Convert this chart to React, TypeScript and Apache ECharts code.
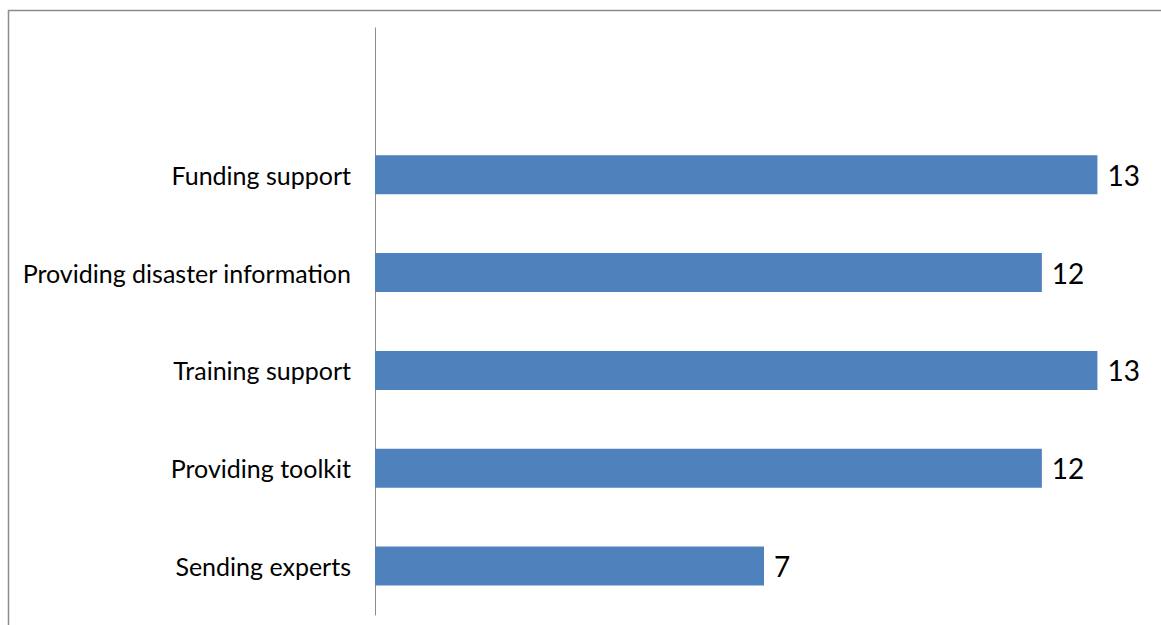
import React, { useEffect, useRef } from "react";
import * as echarts from "echarts";

const categories = ["", "Funding support", "Providing disaster information", "Training support", "Providing toolkit", "Sending experts"];
const values: (number | null)[] = [null, 13, 12, 13, 12, 7];

export default function App() {
  const ref = useRef<HTMLDivElement>(null);
  useEffect(() => {
    const chart = echarts.init(ref.current!, null, { renderer: "svg" });
    chart.setOption({
      animation: false,
      backgroundColor: "#fff",
      graphic: [
        {
          type: "rect",
          shape: { x: 8.5, y: 10.5, width: 1200, height: 700 },
          style: { fill: "none", stroke: "#8c8c8c", lineWidth: 1.5 },
          z: -1,
        },
      ],
      grid: { left: 375, right: 8, top: 28, bottom: 10, containLabel: false },
      xAxis: {
        type: "value",
        min: 0,
        max: 14,
        show: false,
      },
      yAxis: {
        type: "category",
        data: categories,
        inverse: true,
        axisLine: { show: true, lineStyle: { color: "#8c8c8c", width: 1 } },
        axisTick: { show: false },
        axisLabel: { fontFamily: "Lato", fontSize: 25, color: "#000", margin: 24 },
      },
      series: [
        {
          type: "bar",
          data: values,
          barWidth: 39,
          itemStyle: { color: "#4F81BD" },
          label: {
            show: true,
            position: "right",
            distance: 10,
            fontFamily: "Lato",
            fontSize: 28,
            color: "#000",
          },
        },
      ],
    });
    return () => chart.dispose();
  }, []);
  return <div ref={ref} style={{ position: "fixed", left: 0, top: 0, width: 1161, height: 625 }} />;
}
